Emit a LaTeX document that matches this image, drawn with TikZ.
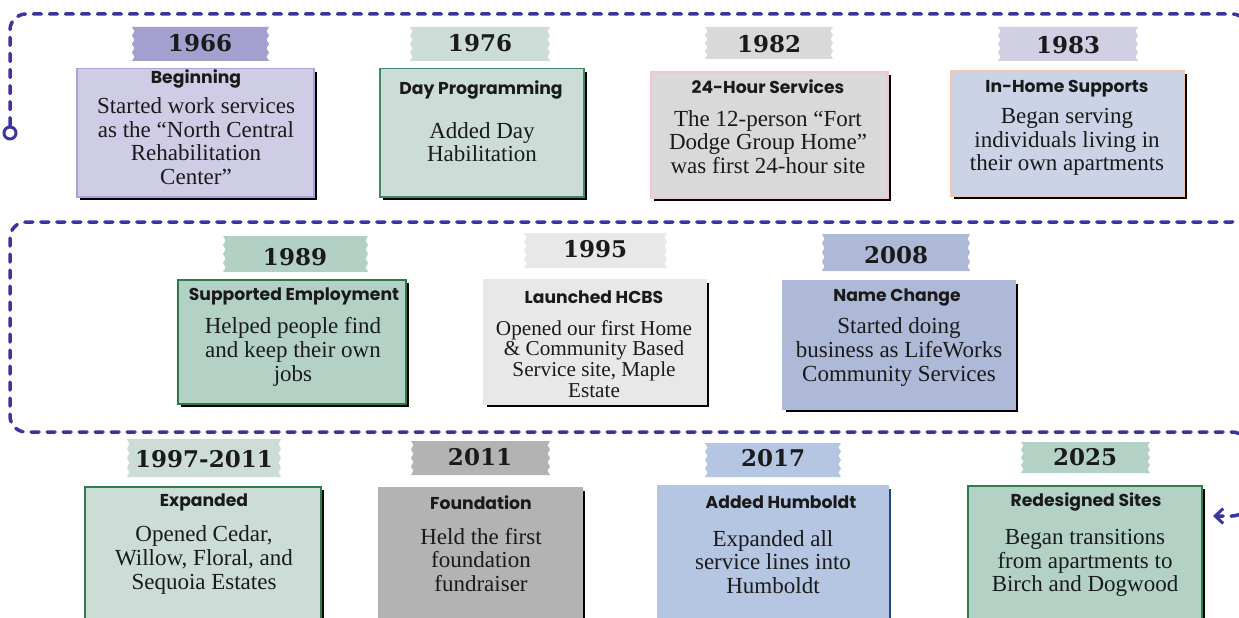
\documentclass[tikz,border=0pt]{standalone}
\usepackage{fontspec}
\setmainfont{Liberation Serif}
\setsansfont{Poppins}
\newfontfamily\yearfont{DejaVu Serif}
\usetikzlibrary{shadows,arrows.meta}
\definecolor{pathc}{HTML}{3B35A0}
\definecolor{ink}{HTML}{1A1A1A}
\definecolor{tA}{HTML}{A39FCF}\definecolor{fA}{HTML}{CFCDE6}\definecolor{bA}{HTML}{A9A5D6}
\definecolor{tB}{HTML}{CCDCD6}\definecolor{fB}{HTML}{CCDDD7}\definecolor{bB}{HTML}{3F8A63}
\definecolor{tC}{HTML}{D9D9D9}\definecolor{fC}{HTML}{D9D9D9}\definecolor{bC}{HTML}{F4C5CA}
\definecolor{tD}{HTML}{D0CFE4}\definecolor{fD}{HTML}{CDD3E6}\definecolor{bD}{HTML}{F6C7A6}
\definecolor{tE}{HTML}{B2D1C4}\definecolor{fE}{HTML}{B3D2C5}\definecolor{bE}{HTML}{2B7A4B}
\definecolor{tF}{HTML}{E8E8E8}\definecolor{fF}{HTML}{E8E8E8}
\definecolor{tG}{HTML}{ADB9D7}\definecolor{fG}{HTML}{ADB9D7}
\definecolor{tH}{HTML}{CCDDD8}\definecolor{fH}{HTML}{CCDDD8}\definecolor{bH}{HTML}{2E7D4F}
\definecolor{tI}{HTML}{B3B3B3}\definecolor{fI}{HTML}{B3B3B3}
\definecolor{tJ}{HTML}{B4C6E2}\definecolor{fJ}{HTML}{B4C6E2}\definecolor{sJ}{HTML}{27477A}
\definecolor{tK}{HTML}{B3D2C5}\definecolor{fK}{HTML}{B3D2C5}\definecolor{bK}{HTML}{2E7D4F}
% torn tape: color, x1, y1, x2, y2
\newcommand{\tapeshape}[5]{%
  \fill[#1] (#2,#3) \foreach \k in {1,...,8} { -- ({#2+2.5*mod(\k,2)},{#3+(#5-#3)*\k/8}) }
    -- (#4,#5) \foreach \k in {1,...,8} { -- ({#4-2.5*mod(\k,2)},{#5-(#5-#3)*\k/8}) } -- cycle;}
\tikzset{
  year/.style={font=\yearfont\bfseries\fontsize{23}{23}\selectfont, text=ink, inner sep=0},
  ttl/.style={font=\sffamily\bfseries\fontsize{17.2}{17.2}\selectfont, text=ink, inner sep=0},
  body/.style={font=\fontsize{23}{23.7}\selectfont, align=center, text=ink, inner sep=0},
  smallbody/.style={font=\fontsize{21.2}{20.8}\selectfont, align=center, text=ink, inner sep=0},
  card/.style={line width=1.5pt, inner sep=0, anchor=north west,
    drop shadow={fill=black, opacity=1, shadow xshift=3pt, shadow yshift=-3pt}},
  flow/.style={draw=pathc, line width=3.5pt, dash pattern=on 8pt off 8pt, line cap=round},
}
\begin{document}
\begin{tikzpicture}[x=1pt,y=-1pt]
\useasboundingbox[fill=white] (0,0) rectangle (1239,618);
% ---------- serpentine timeline path ----------
\node[circle, draw=pathc, line width=3pt, fill=white, minimum size=12pt, inner sep=0] (start) at (10,133) {};
\coordinate (p1) at (10,14);
\coordinate (p2) at (1248,14);
\coordinate (p3) at (1248,222);
\coordinate (p4) at (10,222);
\coordinate (p5) at (10,432);
\coordinate (p6) at (1248,432);
\coordinate (p7) at (1248,516);
\coordinate (tip) at (1213,516);
\draw[flow, rounded corners=16pt, -{Straight Barb[length=8pt,width=15pt,line width=3pt]}]
  (start.north) -- (p1) -- (p2) -- (p3) -- (p4) -- (p5) -- (p6) -- (p7) -- (tip);
% ---------- row 1 ----------
\node[card, fill=fA, draw=bA, minimum width=237, minimum height=128] (c1966) at (76,68) {};
\tapeshape{tA}{132}{27}{269}{61}
\node[year] (y1966) at (200,43) {1966};
\node[ttl] (h1966) at (196,79) {Beginning};
\node[body] (b1966) at (196,141) {Started work services\\as the “North Central\\Rehabilitation\\Center”};

\node[card, fill=fB, draw=bB, minimum width=204, minimum height=128] (c1976) at (379,68) {};
\tapeshape{tB}{410}{27}{550}{61}
\node[year] (y1976) at (480,43) {1976};
\node[ttl] (h1976) at (481,90) {Day Programming};
\node[body] (b1976) at (482,142) {Added Day\\Habilitation};

\node[card, fill=fC, draw=bC, minimum width=237, minimum height=126] (c1982) at (650,71) {};
\tapeshape{tC}{705}{27}{833}{59}
\node[year] (y1982) at (769,44) {1982};
\node[ttl] (h1982) at (768,87) {24-Hour Services};
\node[body] (b1982) at (768,142) {The 12-person “Fort\\Dodge Group Home”\\was first 24-hour site};

\node[card, fill=fD, draw=bD, minimum width=233, minimum height=125] (c1983) at (950,70) {};
\tapeshape{tD}{998}{27}{1138}{61}
\node[year] (y1983) at (1068,45) {1983};
\node[ttl] (h1983) at (1067,89) {In-Home Supports};
\node[body] (b1983) at (1067,142) {Began serving\\individuals living in\\their own apartments};
% ---------- row 2 ----------
\node[card, fill=fE, draw=bE, minimum width=228, minimum height=124] (c1989) at (177,279) {};
\tapeshape{tE}{223}{236}{368}{272}
\node[year] (y1989) at (295,257) {1989};
\node[ttl] (h1989) at (294,296) {Supported Employment};
\node[body] (b1989) at (293,352) {Helped people find\\and keep their own\\jobs};

\node[card, fill=fF, draw=fF, minimum width=222, minimum height=124] (c1995) at (483,279) {};
\tapeshape{tF}{524}{233}{667}{268}
\node[year] (y1995) at (595,249) {1995};
\node[ttl] (h1995) at (594,297) {Launched HCBS};
\node[smallbody] (b1995) at (594,359) {Opened our first Home\\\& Community Based\\Service site, Maple\\Estate};

\node[card, fill=fG, draw=fG, minimum width=232, minimum height=128] (c2008) at (782,280) {};
\tapeshape{tG}{822}{234}{970}{271}
\node[year] (y2008) at (896,255) {2008};
\node[ttl] (h2008) at (897,297) {Name Change};
\node[body] (b2008) at (899,352) {Started doing\\business as LifeWorks\\Community Services};
% ---------- row 3 ----------
\node[card, fill=fH, draw=bH, minimum width=236, minimum height=160] (c9711) at (84,486) {};
\tapeshape{tH}{127}{439}{281}{477}
\node[year] (y9711) at (204,459) {1997-2011};
\node[ttl] (h9711) at (204,502) {Expanded};
\node[body] (b9711) at (204,560) {Opened Cedar,\\Willow, Floral, and\\Sequoia Estates};

\node[card, fill=fI, draw=fI, minimum width=203, minimum height=160] (c2011) at (378,487) {};
\tapeshape{tI}{411}{441}{550}{475}
\node[year] (y2011) at (480,457) {2011};
\node[ttl] (h2011) at (481,503) {Foundation};
\node[body] (b2011) at (481,560) {Held the first\\foundation\\fundraiser};

\node[card, fill=fJ, draw=fJ, minimum width=230, minimum height=160,
  drop shadow={fill=sJ, opacity=1, shadow xshift=3pt, shadow yshift=-3pt}] (c2017) at (657,485) {};
\tapeshape{tJ}{705}{443}{841}{477}
\node[year] (y2017) at (773,458) {2017};
\node[ttl] (h2017) at (781,502) {Added Humboldt};
\node[body] (b2017) at (773,562) {Expanded all\\service lines into\\Humboldt};

\node[card, fill=fK, draw=bK, minimum width=234, minimum height=160] (c2025) at (967,485) {};
\tapeshape{tK}{1021}{442}{1150}{473}
\node[year] (y2025) at (1085,457) {2025};
\node[ttl] (h2025) at (1086,502) {Redesigned Sites};
\node[body] (b2025) at (1085,563) {Began transitions\\from apartments to\\Birch and Dogwood};
\end{tikzpicture}
\end{document}
